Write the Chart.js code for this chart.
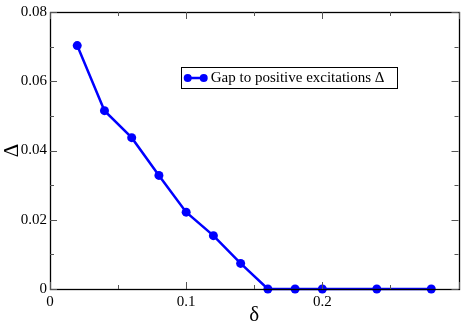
<!DOCTYPE html>
<html><head><meta charset="utf-8">
<script src="https://cdn.jsdelivr.net/npm/chart.js@4.4.1/dist/chart.umd.min.js"></script>
<style>html,body{margin:0;padding:0;background:#fff}#wrap{width:463px;height:324px}</style>
</head><body><div id="wrap"><canvas id="c" width="463" height="324"></canvas></div>
<script>
const deltaValues = [0.02, 0.04, 0.06, 0.08, 0.10, 0.12, 0.14, 0.16, 0.18, 0.20, 0.24, 0.28];
const gapValues = [0.0703, 0.0515, 0.0437, 0.0328, 0.0222, 0.0154, 0.0074, 0.0, 0.0, 0.0, 0.0, 0.0];
const seriesLabel = 'Gap to positive excitations \u0394';
const xTitle = '\u03b4';
const yTitle = '\u0394';
const xTickValues = [0, 0.1, 0.2];
const yTickValues = [0, 0.02, 0.04, 0.06, 0.08];

const SERIF = "'Liberation Serif', 'DejaVu Serif', serif";
const BLUE = '#0000ff';

const framePlugin = {
  id: 'frame',
  afterDraw(chart) {
    const ctx = chart.ctx, a = chart.chartArea;
    const xs = chart.scales.x, ys = chart.scales.y;
    ctx.save();
    ctx.strokeStyle = '#000';
    ctx.lineWidth = 1.3;
    ctx.strokeRect(Math.round(a.left) + 0.5, Math.round(a.top) + 0.5, Math.round(a.right - a.left), Math.round(a.bottom - a.top));
    ctx.strokeStyle = '#555';
    ctx.lineWidth = 1;
    for (let v = 0; v <= 0.3001; v += 0.05) {
      const major = Math.abs(v / 0.1 - Math.round(v / 0.1)) < 1e-6;
      const L = major ? 7 : 4;
      const px = Math.round(xs.getPixelForValue(v)) + 0.5;
      ctx.beginPath();
      ctx.moveTo(px, a.bottom); ctx.lineTo(px, a.bottom - L);
      ctx.moveTo(px, a.top); ctx.lineTo(px, a.top + L);
      ctx.stroke();
    }
    for (let v = 0; v <= 0.0801; v += 0.01) {
      const major = Math.abs(v / 0.02 - Math.round(v / 0.02)) < 1e-6;
      const L = major ? 7 : 4;
      const py = Math.round(ys.getPixelForValue(v)) + 0.5;
      ctx.beginPath();
      ctx.moveTo(a.left, py); ctx.lineTo(a.left + L, py);
      ctx.moveTo(a.right, py); ctx.lineTo(a.right - L, py);
      ctx.stroke();
    }
    const lx = xs.getPixelForValue(0.096), ly = ys.getPixelForValue(0.0641);
    const w = 216, h = 21;
    ctx.fillStyle = '#fff';
    ctx.fillRect(lx, ly, w, h);
    ctx.strokeStyle = '#000';
    ctx.lineWidth = 1;
    ctx.strokeRect(Math.round(lx) + 0.5, Math.round(ly) + 0.5, w, h);
    const cy = Math.round(ly) + 0.5 + h / 2;
    ctx.strokeStyle = BLUE; ctx.fillStyle = BLUE; ctx.lineWidth = 2.5;
    ctx.beginPath(); ctx.moveTo(lx + 6, cy); ctx.lineTo(lx + 24, cy); ctx.stroke();
    [lx + 7, lx + 23].forEach(cx => { ctx.beginPath(); ctx.arc(cx, cy, 4, 0, Math.PI * 2); ctx.fill(); });
    ctx.fillStyle = '#000';
    ctx.font = '15px ' + SERIF;
    ctx.textBaseline = 'middle';
    ctx.textAlign = 'left';
    ctx.fillText(seriesLabel, lx + 30, cy + 0.5);
    ctx.restore();
  }
};

new Chart(document.getElementById('c'), {
  type: 'line',
  data: {
    datasets: [{
      label: seriesLabel,
      data: deltaValues.map((d, i) => ({ x: d, y: gapValues[i] })),
      borderColor: BLUE,
      backgroundColor: BLUE,
      borderWidth: 2.5,
      pointRadius: 4.5,
      pointHoverRadius: 4.5,
      pointBorderWidth: 0,
      tension: 0,
      clip: false
    }]
  },
  options: {
    responsive: false,
    animation: false,
    devicePixelRatio: 1,
    layout: { padding: { top: 6, right: 2, left: 0, bottom: 0 } },
    plugins: { legend: { display: false }, tooltip: { enabled: false } },
    scales: {
      x: {
        type: 'linear', min: 0, max: 0.3,
        afterFit(s) { s.height = 35; },
        afterBuildTicks(s) { s.ticks = xTickValues.map(v => ({ value: v })); },
        grid: { display: false, drawTicks: false },
        border: { display: false },
        ticks: { color: '#000', font: { family: SERIF, size: 15 }, padding: 4, maxRotation: 0,
          callback: v => String(v) },
        title: { display: true, text: xTitle, color: '#000', font: { family: SERIF, size: 21 }, padding: { top: 0, bottom: -4 } }
      },
      y: {
        type: 'linear', min: 0, max: 0.08,
        afterFit(s) { s.width = 50; },
        afterBuildTicks(s) { s.ticks = yTickValues.map(v => ({ value: v })); },
        grid: { display: false, drawTicks: false },
        border: { display: false },
        ticks: { color: '#000', font: { family: SERIF, size: 15 }, padding: 3,
          callback: v => String(v) },
        title: { display: true, text: yTitle, color: '#000', font: { family: SERIF, size: 21 }, padding: { top: 0, bottom: 0 } }
      }
    }
  },
  plugins: [framePlugin]
});
</script>
</body></html>
